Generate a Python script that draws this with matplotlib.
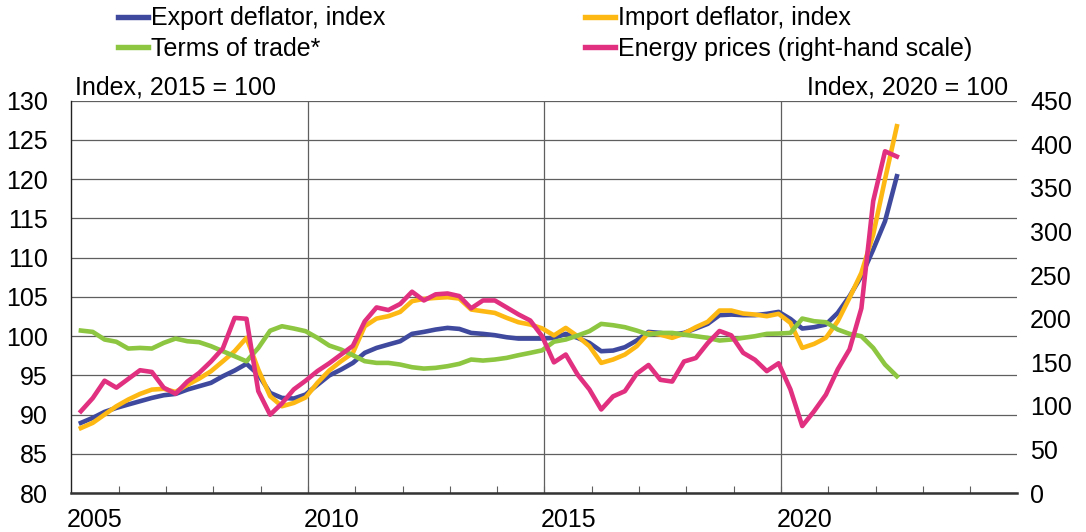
import numpy as np
import matplotlib
matplotlib.use('Agg')
import matplotlib.pyplot as plt
from matplotlib.lines import Line2D

plt.rcParams['font.family'] = ['Liberation Sans', 'DejaVu Sans']

# ---------------- data (quarterly, 2005Q1 .. 2022Q2) ----------------
start_year = 2005
n_quarters = 70
quarters = [f"{start_year + i // 4}Q{i % 4 + 1}" for i in range(n_quarters)]

export_deflator = [
    88.96, 89.6, 90.36, 90.87, 91.3, 91.72, 92.14, 92.48, 92.65, 93.2,
    93.63, 94.06, 94.9, 95.63, 96.48, 95.12, 92.78, 92.14, 92.06, 92.57,
    93.8, 95.0, 95.75, 96.6, 97.88, 98.51, 98.94, 99.36, 100.3, 100.55,
    100.85, 101.06, 100.93, 100.42, 100.3, 100.13, 99.87, 99.7, 99.7, 99.7,
    99.79, 100.3, 99.79, 99.15, 98.09, 98.17, 98.6, 99.45, 100.55, 100.42,
    100.21, 100.42, 100.98, 101.57, 102.68, 102.76, 102.68, 102.68, 102.85, 103.1,
    102.2, 100.98, 101.15, 101.49, 102.97, 105.1, 107.64, 111.04, 114.65, 120.38,
]

import_deflator = [
    88.3, 88.96, 90.02, 91.08, 91.93, 92.65, 93.2, 93.3, 92.9, 93.8,
    94.6, 95.54, 96.8, 98.09, 99.79, 95.75, 92.36, 91.08, 91.5, 92.2,
    94.06, 95.63, 96.82, 97.88, 101.27, 102.25, 102.55, 103.1, 104.46, 104.76,
    104.88, 104.97, 104.8, 103.4, 103.18, 102.97, 102.34, 101.78, 101.49, 101.0,
    100.1, 101.06, 100.0, 98.73, 96.6, 97.03, 97.66, 98.73, 100.42, 100.2,
    99.79, 100.34, 101.15, 101.83, 103.27, 103.27, 102.89, 102.76, 102.55, 102.85,
    101.7, 98.51, 99.02, 99.79, 101.9, 104.9, 108.07, 112.95, 120.0, 126.75,
]

terms_of_trade = [
    100.72, 100.55, 99.58, 99.29, 98.43, 98.51, 98.43, 99.15, 99.7, 99.36,
    99.24, 98.73, 98.09, 97.45, 96.8, 98.5, 100.7, 101.27, 100.98, 100.64,
    99.79, 98.81, 98.3, 97.58, 96.82, 96.6, 96.6, 96.39, 96.05, 95.88,
    95.97, 96.18, 96.48, 97.03, 96.9, 97.03, 97.24, 97.58, 97.88, 98.2,
    99.3, 99.58, 100.08, 100.64, 101.57, 101.4, 101.15, 100.72, 100.21, 100.42,
    100.42, 100.21, 100.0, 99.79, 99.45, 99.58, 99.79, 100.0, 100.3, 100.34,
    100.42, 102.25, 101.91, 101.78, 100.85, 100.3, 100.0, 98.51, 96.39, 94.9,
]

energy_prices = [
    94, 109, 129, 121, 131, 141, 139, 121, 114, 128,
    138, 151, 166, 201, 200, 117, 90, 103, 119, 129,
    140, 149, 159, 169, 197, 213, 210, 217, 231, 221,
    228, 229, 226, 212, 221, 221, 213, 205, 198, 180,
    150, 159, 136, 119, 96, 111, 117, 137, 147, 130,
    128, 151, 155, 172, 186, 181, 161, 153, 140, 149,
    119, 77, 94, 113, 142, 165, 212, 335, 392, 386,
]

left_ticks = list(range(80, 131, 5))
right_ticks = list(range(0, 451, 50))
year_labels = ['2005', '2010', '2015', '2020']
grid_years = [2010, 2015, 2020]

series_labels = ['Export deflator, index', 'Import deflator, index',
                 'Terms of trade*', 'Energy prices (right-hand scale)']
colors = ['#3F4A9E', '#FDB813', '#8DC641', '#E0307F']

# x positions of the quarters (decimal years)
x = np.array([int(q[:4]) + (int(q[-1]) - 1) / 4 + 0.2 for q in quarters])

# ---------------- figure ----------------
fig = plt.figure(figsize=(10.86, 5.32), dpi=100)
ax = fig.add_axes([0.0658, 0.0729, 0.8711, 0.7378])

FS = 18
LW = 3.3
grid_c = '#5f5f5f'

ax.set_xlim(2005, 2025)
ax.set_ylim(80, 130)
ax.set_yticks(left_ticks)
ax.yaxis.grid(True, color=grid_c, lw=0.9)
ax.set_axisbelow(True)
for yr in grid_years:
    ax.axvline(yr, color=grid_c, lw=0.9, zorder=0.5)

ax.set_xticks([int(y) + 0.5 for y in year_labels])
ax.set_xticklabels(year_labels, fontsize=FS)
ax.set_xticks(np.arange(2006, 2025), minor=True)
ax.tick_params(axis='x', which='major', length=0, pad=11)
ax.tick_params(axis='x', which='minor', direction='in', length=5, width=0.8, color=grid_c)
ax.tick_params(axis='y', length=0, pad=17, labelsize=FS)

for s in ['top', 'right']:
    ax.spines[s].set_visible(False)
ax.spines['left'].set_color('#222222')
ax.spines['left'].set_linewidth(1.0)
ax.spines['bottom'].set_color('#333333')
ax.spines['bottom'].set_linewidth(1.8)

l1, = ax.plot(x, export_deflator, color=colors[0], lw=LW, solid_joinstyle='round', zorder=3)
l2, = ax.plot(x, import_deflator, color=colors[1], lw=LW, solid_joinstyle='round', zorder=3)
l3, = ax.plot(x, terms_of_trade, color=colors[2], lw=LW, solid_joinstyle='round', zorder=3)

ax2 = ax.twinx()
ax2.set_ylim(0, 450)
ax2.set_yticks(right_ticks)
ax2.tick_params(axis='y', length=0, pad=9, labelsize=FS)
for s in ax2.spines.values():
    s.set_visible(False)
l4, = ax2.plot(x, energy_prices, color=colors[3], lw=LW, solid_joinstyle='round', zorder=3)

ax.text(0.004, 1.017, 'Index, 2015 = 100', transform=ax.transAxes,
        ha='left', va='baseline', fontsize=FS)
ax.text(0.99, 1.017, 'Index, 2020 = 100', transform=ax.transAxes,
        ha='right', va='baseline', fontsize=FS)

h = [Line2D([], [], color=c, lw=LW + 0.6) for c in colors]
leg_kw = dict(loc='upper left', frameon=False, fontsize=FS, handlelength=1.2,
              handletextpad=0.1, labelspacing=0.27, borderpad=0, borderaxespad=0)
fig.legend([h[0], h[2]], [series_labels[0], series_labels[2]],
           bbox_to_anchor=(0.1087, 0.988), **leg_kw)
fig.legend([h[1], h[3]], [series_labels[1], series_labels[3]],
           bbox_to_anchor=(0.5387, 0.988), **leg_kw)

fig.savefig('out.png', dpi=100)
